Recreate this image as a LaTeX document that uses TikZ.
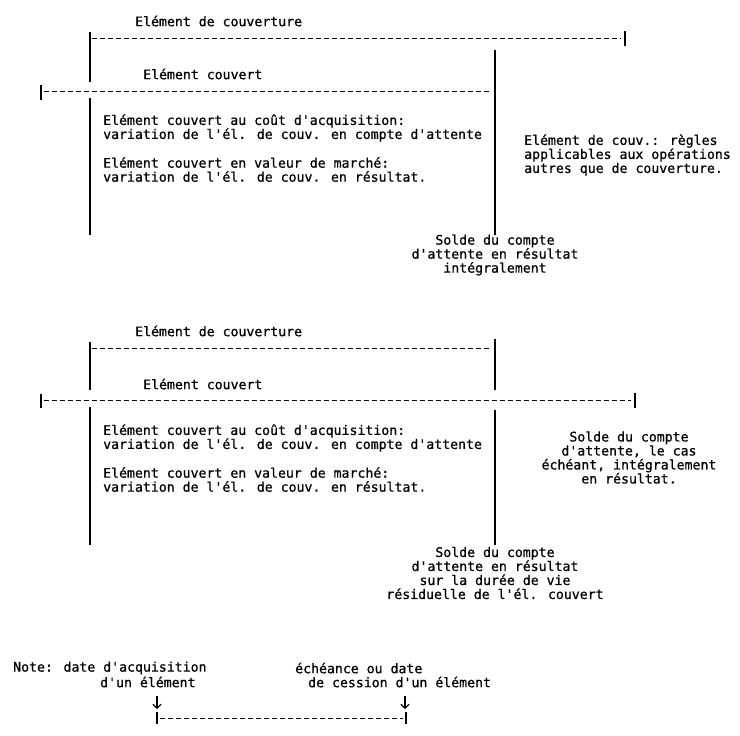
\documentclass[tikz,border=0pt]{standalone}
\usepackage{fontspec}
\usetikzlibrary{arrows.meta}
\newfontfamily\dmono[FakeBold=0.7]{DejaVu Sans Mono}
\tikzset{
  txt/.style={font=\fontsize{13.2}{14}\selectfont\dmono, inner sep=0pt, anchor=west, align=left},
  ctxt/.style={txt, anchor=center, align=center},
  dline/.style={line width=1pt, dash pattern=on 4.5pt off 3.5pt},
  vline/.style={line width=1.8pt},
  tickmark/.style={line width=2.2pt},
  downarrow/.style={line width=1.2pt, -{Straight Barb[length=4pt,width=8pt]}}
}
\begin{document}
\begin{tikzpicture}[x=1pt,y=-1pt]
\useasboundingbox (0,0) rectangle (740,736);
% ---------- Diagram 1 ----------
\node[txt] (h1) at (135,21) {Elément de couverture};
\coordinate (a1t) at (90,32); \coordinate (a1b) at (90,82);
\draw[vline] (a1t) -- (a1b);
\coordinate (d1s) at (92,38); \coordinate (d1e) at (621,38);
\draw[dline] (d1s) -- (d1e);
\coordinate (k1t) at (625,31); \coordinate (k1b) at (625,46);
\draw[tickmark] (k1t) -- (k1b);
\coordinate (b1t) at (495,50); \coordinate (b1b) at (495,235);
\draw[vline] (b1t) -- (b1b);
\node[txt] (c1) at (143,74) {Elément couvert};
\coordinate (l1t) at (41,85); \coordinate (l1b) at (41,100);
\draw[tickmark] (l1t) -- (l1b);
\coordinate (e1s) at (44,91); \coordinate (e1e) at (490,91);
\draw[dline] (e1s) -- (e1e);
\coordinate (g1t) at (90,98); \coordinate (g1b) at (90,235);
\draw[vline] (g1t) -- (g1b);
\node[txt] (p11) at (103,128) {Elément couvert au coût d'acquisition:\\variation de l'él. de couv. en compte d'attente};
\node[txt] (p12) at (103,169.5) {Elément couvert en valeur de marché:\\variation de l'él. de couv. en résultat.};
\node[txt] (r1) at (524,155) {Elément de couv.: règles\\applicables aux opérations\\autres que de couverture.};
\node[ctxt] (s1) at (495,255) {Solde du compte\\d'attente en résultat\\intégralement};
% ---------- Diagram 2 ----------
\node[txt] (h2) at (135,331) {Elément de couverture};
\coordinate (a2t) at (90,342); \coordinate (a2b) at (90,390);
\draw[vline] (a2t) -- (a2b);
\coordinate (d2s) at (92,348); \coordinate (d2e) at (490,348);
\draw[dline] (d2s) -- (d2e);
\coordinate (b2t) at (495,339); \coordinate (b2m) at (495,390);
\draw[vline] (b2t) -- (b2m);
\node[txt] (c2) at (143,384) {Elément couvert};
\coordinate (l2t) at (41,394); \coordinate (l2b) at (41,408);
\draw[tickmark] (l2t) -- (l2b);
\coordinate (e2s) at (44,400); \coordinate (e2e) at (631,400);
\draw[dline] (e2s) -- (e2e);
\coordinate (k2t) at (635,393); \coordinate (k2b) at (635,408);
\draw[tickmark] (k2t) -- (k2b);
\coordinate (g2t) at (90,407); \coordinate (g2b) at (90,545);
\draw[vline] (g2t) -- (g2b);
\coordinate (f2t) at (495,410); \coordinate (f2b) at (495,545);
\draw[vline] (f2t) -- (f2b);
\node[txt] (p21) at (103,438) {Elément couvert au coût d'acquisition:\\variation de l'él. de couv. en compte d'attente};
\node[txt] (p22) at (103,479.5) {Elément couvert en valeur de marché:\\variation de l'él. de couv. en résultat.};
\node[ctxt] (r2) at (629,457.5) {Solde du compte\\d'attente, le cas\\échéant, intégralement\\en résultat.};
\node[ctxt] (s2) at (495,573) {Solde du compte\\d'attente en résultat\\sur la durée de vie\\résiduelle de l'él. couvert};
% ---------- Note ----------
\node[txt] (n1) at (13,668) {Note: date d'acquisition};
\node[txt] (n2) at (100,682) {d'un élément};
\node[txt] (n3) at (295,668) {échéance ou date};
\node[txt] (n4) at (308,682) {de cession d'un élément};
\coordinate (ns) at (160,718); \coordinate (ne) at (403,718);
\coordinate (nlt) at (157,712); \coordinate (nlb) at (157,724);
\coordinate (nrt) at (406,712); \coordinate (nrb) at (406,724);
\coordinate (a1s) at (157,696); \coordinate (a1e) at (157,709);
\coordinate (a2s) at (405,696); \coordinate (a2e) at (405,709);
\draw[downarrow] (a1s) -- (a1e);
\draw[downarrow] (a2s) -- (a2e);
\draw[dline] (ns) -- (ne);
\draw[tickmark] (nlt) -- (nlb);
\draw[tickmark] (nrt) -- (nrb);
\end{tikzpicture}
\end{document}
